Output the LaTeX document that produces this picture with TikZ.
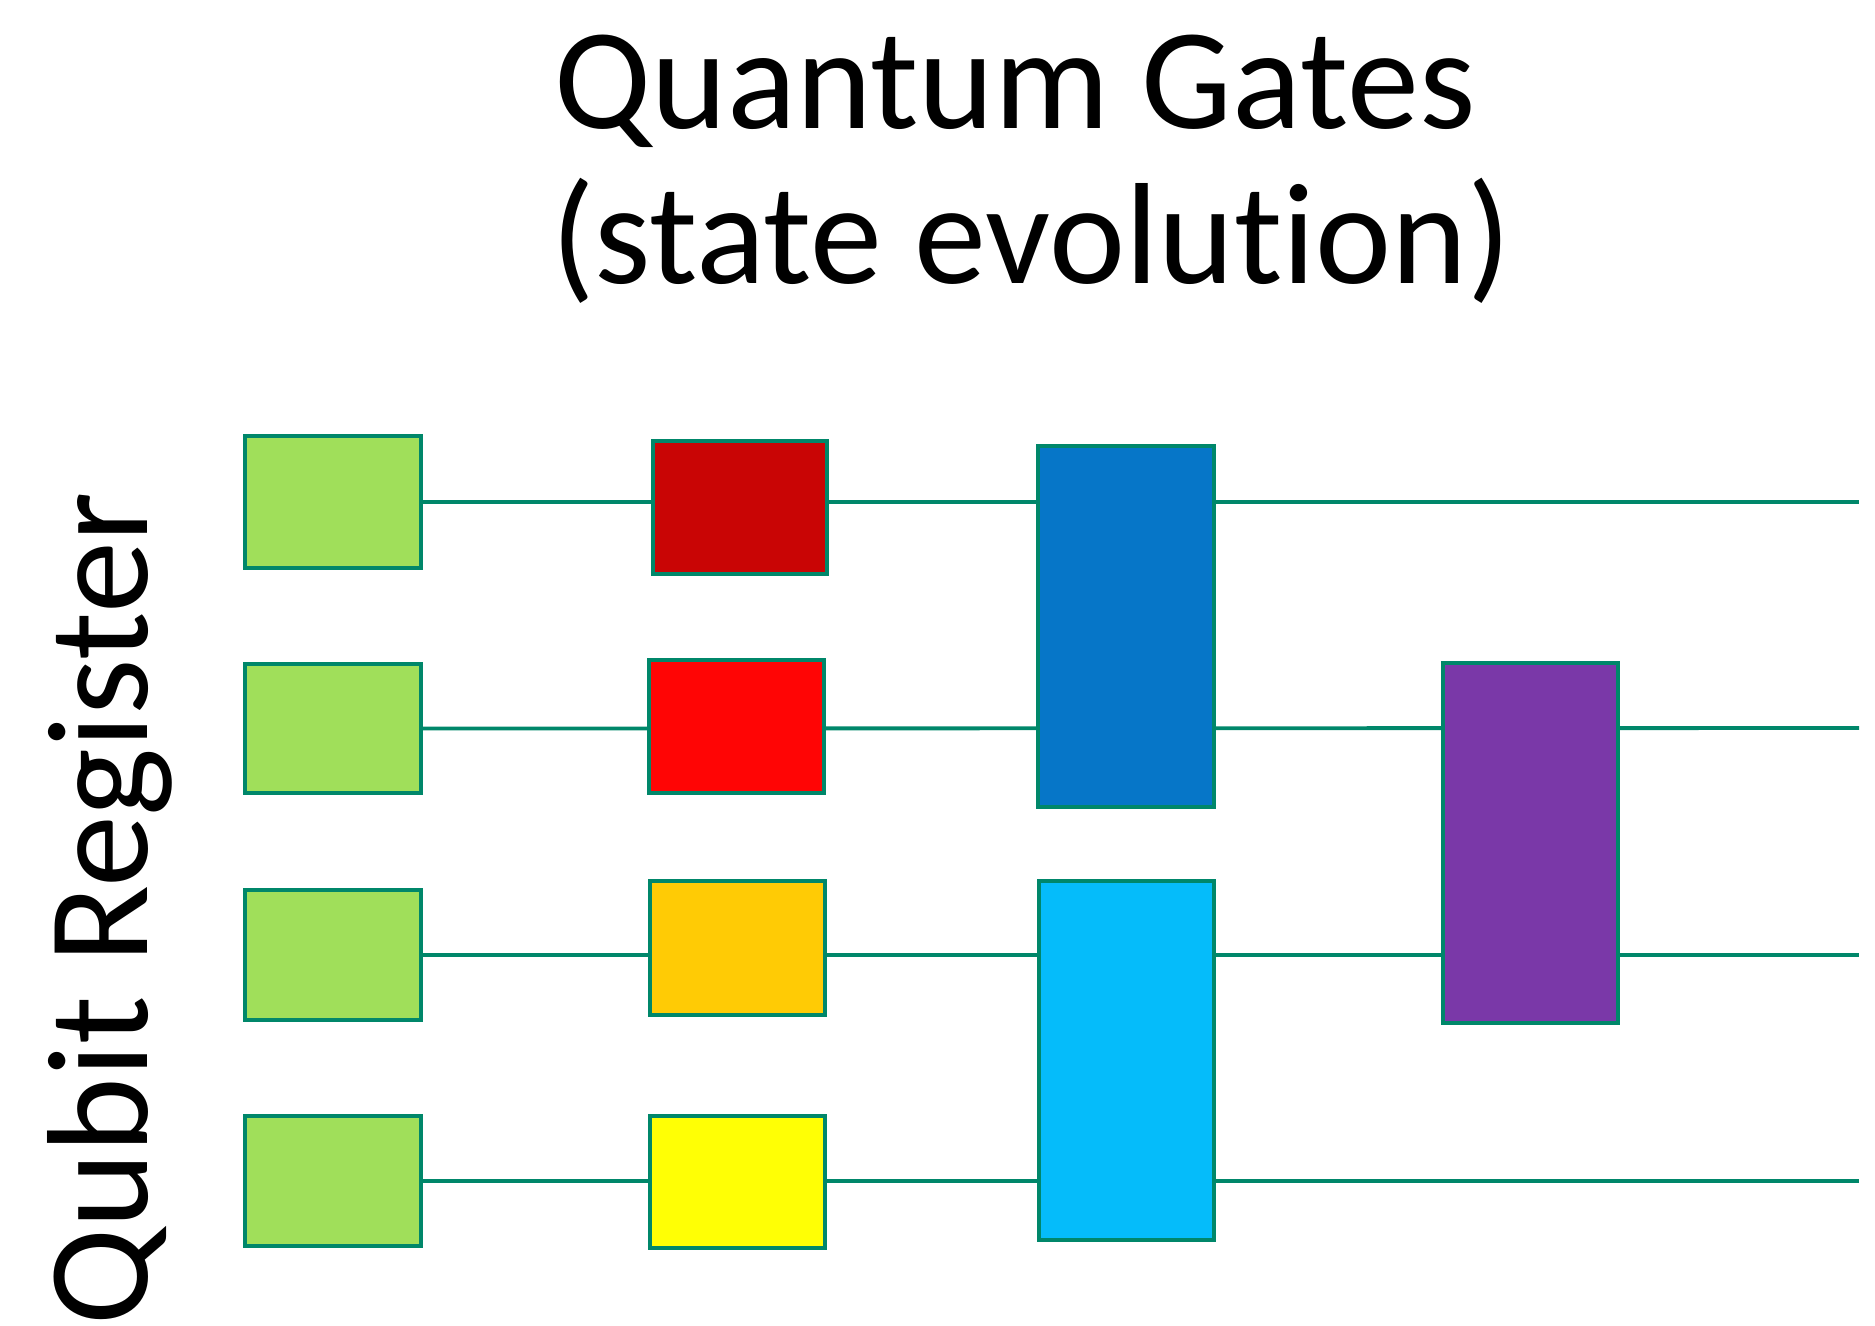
\documentclass[tikz,border=0pt]{standalone}
\usepackage{fontspec}
\setmainfont{Carlito}[Ligatures=NoCommon]
\definecolor{wire}{HTML}{00876A}
\definecolor{gprep}{HTML}{A0DF5A}
\definecolor{gdred}{HTML}{C90505}
\definecolor{gred}{HTML}{FF0505}
\definecolor{gorange}{HTML}{FFCB05}
\definecolor{gyellow}{HTML}{FFFF05}
\definecolor{gblue}{HTML}{0676C8}
\definecolor{glblue}{HTML}{05BCFA}
\definecolor{gpurple}{HTML}{7A38A8}
\begin{document}
\begin{tikzpicture}[x=0.02cm,y=-0.02cm,
  wireline/.style={draw=wire,line width=2.2pt},
  gate/.style={draw=wire,line width=2.2pt,rectangle,inner sep=0pt,outer sep=0pt},
  titletext/.style={anchor=base,inner sep=0pt,font=\fontsize{82pt}{98pt}\selectfont}]
\useasboundingbox (0,0) rectangle (1875,1325);

% gate boxes given by their corners (pixel grid, y downward)
\newcommand{\gatebox}[6]{%
  \node[gate,fill=#6,minimum width={(#3-#2)*0.02cm},minimum height={(#5-#4)*0.02cm}]
    (#1) at ({(#2+#3)/2},{(#4+#5)/2}) {};}

% wire ends on the right
\coordinate (e1) at (1859,502);
\coordinate (e2) at (1859,728);
\coordinate (e3) at (1859,955);
\coordinate (e4) at (1859,1181);

% preparation boxes
\gatebox{p1}{245}{421}{436}{568}{gprep}
\gatebox{p2}{245}{421}{664}{793}{gprep}
\gatebox{p3}{245}{421}{890}{1020}{gprep}
\gatebox{p4}{245}{421}{1116}{1246}{gprep}

% qubit wires (drawn under the gates)
\draw[wireline] (p1.east) -- (e1);
\draw[wireline] (p2.east) -- (e2);
\draw[wireline] (p3.east) -- (e3);
\draw[wireline] (p4.east) -- (e4);

% single-qubit gates
\gatebox{s1}{653}{827}{441}{574}{gdred}
\gatebox{s2}{649}{824}{660}{793}{gred}
\gatebox{s3}{650}{825}{881}{1015}{gorange}
\gatebox{s4}{650}{825}{1116}{1248}{gyellow}

% two-qubit gates
\gatebox{t12}{1038}{1214}{446}{807}{gblue}
\gatebox{t34}{1039}{1214}{881}{1240}{glblue}
\gatebox{t23}{1443}{1618}{663}{1023}{gpurple}

% labels
\node[titletext] (title1) at (1015,128) {Quantum Gates};
\node[titletext] (title2) at (1031,283) {(state evolution)};
\node[rotate=90,anchor=base west,inner sep=0pt,font=\fontsize{82pt}{98pt}\selectfont] (reg) at (147,1326) {Qubit Register};
\end{tikzpicture}
\end{document}
